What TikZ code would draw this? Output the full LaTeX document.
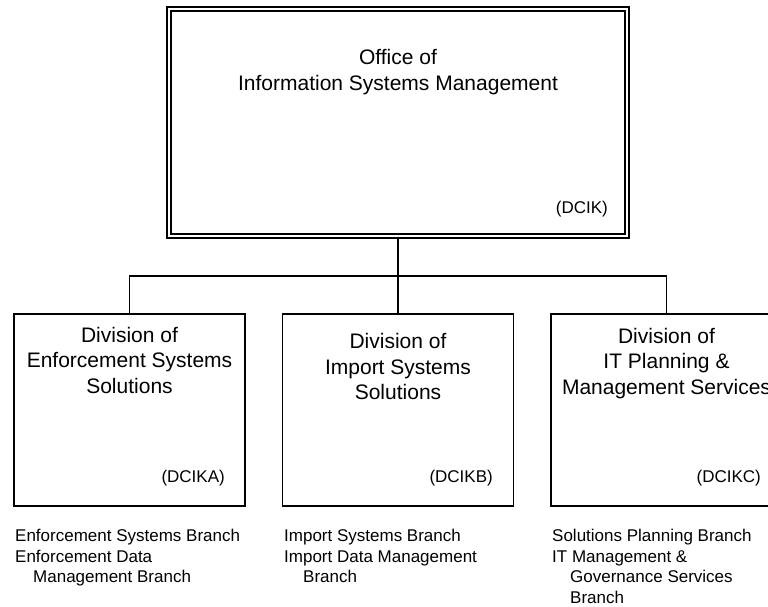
\documentclass[tikz,border=0pt]{standalone}
\usepackage{fontspec}
\setmainfont{Liberation Sans}
\begin{document}
\begin{tikzpicture}[x=1pt, y=-1pt]
        \tikzstyle{blk} = [draw, black, line width=1.2pt]
        \tikzstyle{office} = [blk, double, double distance=2.8pt, minimum width=458pt, minimum height=227pt, inner sep=0pt]
        \tikzstyle{division} = [blk, minimum width=231pt, minimum height=192pt, inner sep=0pt]
        \tikzstyle{title} = [inner sep=0pt, align=center, anchor=north, font=\fontsize{21}{25.5}\selectfont]
        \tikzstyle{code} = [inner sep=0pt, anchor=base east, font=\fontsize{17}{20}\selectfont]
        \tikzstyle{branches} = [inner sep=0pt, align=left, anchor=north west, font=\fontsize{17}{20.5}\selectfont]

        \useasboundingbox (0, 0) rectangle (768, 606);

        \node[office] (office) at (398, 122.5) {};
        \node[division] (enforcement) at (129.5, 410) {};
        \node[division] (import) at (398, 410) {};
        \node[division] (planning) at (666.5, 410) {};

        \node[title, font=\fontsize{21}{26}\selectfont] (office title) at (398, 49.5) {Office of\\Information Systems Management};
        \node[title] (enforcement title) at (129.5, 327) {Division of\\Enforcement Systems\\Solutions};
        \node[title] (import title) at (398, 333.5) {Division of\\Import Systems\\Solutions};
        \node[title] (planning title) at (666.5, 328) {Division of\\IT Planning \&\\Management Services};

        \node[code] (office code) at (608, 213) {(DCIK)};
        \node[code] (enforcement code) at (225, 482.5) {(DCIKA)};
        \node[code] (import code) at (493, 482.5) {(DCIKB)};
        \node[code] (planning code) at (761, 482.5) {(DCIKC)};

        \node[branches] (enforcement branches) at (15, 529) {Enforcement Systems Branch\\Enforcement Data\\\hspace*{18pt}Management Branch};
        \node[branches] (import branches) at (284, 529) {Import Systems Branch\\Import Data Management\\\hspace*{19pt}Branch};
        \node[branches] (planning branches) at (552, 529) {Solutions Planning Branch\\IT Management \&\\\hspace*{18pt}Governance Services\\\hspace*{18pt}Branch};

        \coordinate (bar) at (398, 276);
        \path[blk] (office.south) to (import.north);
        \path[blk] (enforcement.north) |- (bar) -| (planning.north);
    \end{tikzpicture}
\end{document}
